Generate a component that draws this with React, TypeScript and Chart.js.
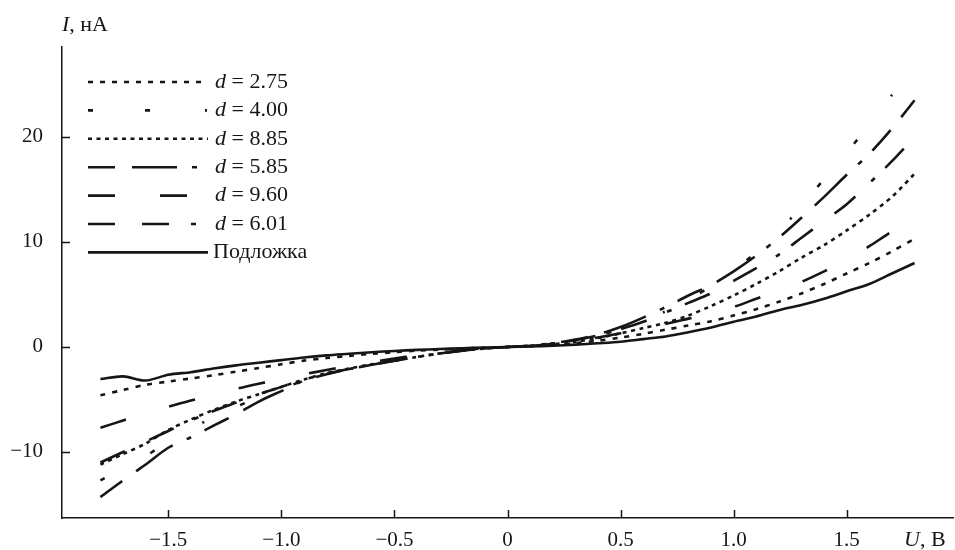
import React, { useEffect, useRef } from "react";
import { Chart, registerables } from "chart.js";

Chart.register(...registerables);

// U, V (x values)
const voltages = [
  -1.8, -1.7, -1.6, -1.5, -1.4, -1.3, -1.2, -1.1, -1.0, -0.9, -0.8, -0.7, -0.6,
  -0.5, -0.4, -0.3, -0.2, -0.1, 0, 0.1, 0.2, 0.3, 0.4, 0.5, 0.6, 0.7, 0.8, 0.9,
  1.0, 1.1, 1.2, 1.3, 1.4, 1.5, 1.6, 1.7, 1.8,
];

// I, nA per series
const d275 = [
  -4.6, -4.1, -3.6, -3.3, -3.0, -2.7, -2.35, -2.0, -1.65, -1.3, -1.05, -0.85,
  -0.65, -0.5, -0.35, -0.25, -0.15, -0.07, 0, 0.07, 0.18, 0.35, 0.6, 0.9, 1.25,
  1.65, 2.05, 2.45, 3.0, 3.6, 4.3, 5.1, 6.0, 7.0, 8.0, 9.1, 10.3,
];
const d400 = [
  -12.7, -11.6, -10.4, -9.0, -7.8, -6.7, -5.7, -4.8, -4.0, -3.2, -2.6, -2.1,
  -1.7, -1.3, -0.95, -0.62, -0.35, -0.15, 0, 0.12, 0.33, 0.65, 1.1, 1.7, 2.5,
  3.4, 4.5, 5.8, 7.3, 9.0, 11.0, 13.4, 16.0, 18.5, 21.2, 24.0, 26.8,
];
const d885 = [
  -11.2, -10.2, -9.2, -7.9, -6.9, -6.0, -5.2, -4.5, -3.8, -3.1, -2.5, -2.05,
  -1.65, -1.3, -0.95, -0.62, -0.35, -0.15, 0, 0.1, 0.25, 0.5, 0.85, 1.3, 1.8,
  2.3, 3.0, 3.9, 4.9, 6.0, 7.2, 8.5, 9.7, 11.1, 12.6, 14.3, 16.5,
];
const d585 = [
  -14.3, -12.7, -11.2, -9.6, -8.6, -7.5, -6.4, -5.2, -4.2, -3.2, -2.6, -2.1,
  -1.7, -1.3, -0.95, -0.62, -0.35, -0.15, 0, 0.12, 0.35, 0.7, 1.2, 1.9, 2.8,
  3.8, 4.9, 5.9, 7.2, 8.7, 10.4, 12.3, 14.3, 16.4, 18.4, 20.8, 23.5,
];
const d960 = [
  -7.7, -7.0, -6.3, -5.7, -5.1, -4.6, -4.0, -3.5, -3.05, -2.6, -2.2, -1.8,
  -1.45, -1.1, -0.8, -0.52, -0.3, -0.12, 0, 0.1, 0.3, 0.55, 0.9, 1.3, 1.75,
  2.2, 2.7, 3.2, 3.8, 4.6, 5.4, 6.2, 7.2, 8.3, 9.6, 11.0, 12.2,
];
const d601 = [
  -11.0, -10.0, -9.0, -8.0, -7.0, -6.1, -5.3, -4.5, -3.8, -3.1, -2.55, -2.1,
  -1.7, -1.3, -0.95, -0.62, -0.35, -0.15, 0, 0.12, 0.32, 0.65, 1.1, 1.7, 2.4,
  3.3, 4.2, 5.1, 6.3, 7.5, 8.8, 10.4, 12.0, 13.6, 15.6, 17.7, 20.0,
];
const substrate = [
  -3.05, -2.8, -3.2, -2.65, -2.4, -2.05, -1.75, -1.5, -1.25, -1.0, -0.8, -0.65,
  -0.5, -0.38, -0.28, -0.2, -0.12, -0.05, 0, 0.05, 0.12, 0.22, 0.35, 0.5, 0.75,
  1.0, 1.4, 1.85, 2.4, 2.9, 3.5, 4.0, 4.6, 5.3, 6.0, 7.0, 8.0,
];

const seriesLabels = [
  "d = 2.75",
  "d = 4.00",
  "d = 8.85",
  "d = 5.85",
  "d = 9.60",
  "d = 6.01",
  "Подложка",
];
const seriesValues = [d275, d400, d885, d585, d960, d601, substrate];

const xTickValues = [-1.5, -1.0, -0.5, 0, 0.5, 1.0, 1.5];
const xTickLabels = ["−1.5", "−1.0", "−0.5", "0", "0.5", "1.0", "1.5"];
const yTickValues = [-10, 0, 10, 20];
const yTickLabels = ["−10", "0", "10", "20"];

// styles (kept apart from data)
const dashes: number[][] = [
  [5, 7],
  [5, 52, 5, 55, 2, 40],
  [4, 4.5],
  [27, 17, 45, 15, 5, 15],
  [27, 45],
  [27, 27, 27, 22, 5, 14],
  [],
];
const INK = "#161616";
const SERIF = '"Liberation Serif", "DejaVu Serif", serif';

const insideTicks = {
  id: "insideTicks",
  afterDraw(chart: any) {
    const { ctx, chartArea, scales } = chart;
    ctx.save();
    ctx.strokeStyle = INK;
    ctx.lineWidth = 1.5;
    ctx.setLineDash([]);
    ctx.beginPath();
    xTickValues.forEach((v) => {
      const px = Math.round(scales.x.getPixelForValue(v)) + 0.5;
      ctx.moveTo(px, chartArea.bottom);
      ctx.lineTo(px, chartArea.bottom - 8);
    });
    yTickValues.forEach((v) => {
      const py = Math.round(scales.y.getPixelForValue(v)) + 0.5;
      ctx.moveTo(chartArea.left, py);
      ctx.lineTo(chartArea.left + 8, py);
    });
    ctx.stroke();
    ctx.restore();
  },
};

function drawMixed(ctx: any, italicPart: string, rest: string, x: number, y: number, size: number) {
  ctx.font = `italic ${size}px ${SERIF}`;
  ctx.fillText(italicPart, x, y);
  const w = ctx.measureText(italicPart).width;
  ctx.font = `${size}px ${SERIF}`;
  ctx.fillText(rest, x + w, y);
}

const customLegend = {
  id: "customLegend",
  afterDraw(chart: any) {
    const { ctx } = chart;
    ctx.save();
    ctx.fillStyle = INK;
    ctx.textBaseline = "middle";
    ctx.textAlign = "left";
    chart.data.datasets.forEach((ds: any, i: number) => {
      const y = 82 + i * 28.4;
      ctx.strokeStyle = INK;
      ctx.lineWidth = 2.6;
      ctx.setLineDash(ds.borderDash || []);
      ctx.beginPath();
      ctx.moveTo(88, y);
      ctx.lineTo(208, y);
      ctx.stroke();
      ctx.setLineDash([]);
      const label: string = ds.label;
      if (label.startsWith("d ")) {
        drawMixed(ctx, "d", label.slice(1), 215, y, 22);
      } else {
        ctx.font = `22px ${SERIF}`;
        ctx.fillText(label, 213, y);
      }
    });
    // axis titles
    drawMixed(ctx, "I", ", нА", 62, 25, 22);
    drawMixed(ctx, "U", ", В", 904, 540, 22);
    ctx.restore();
  },
};

export default function App() {
  const ref = useRef<HTMLCanvasElement | null>(null);
  useEffect(() => {
    if (!ref.current) return;
    const chart = new Chart(ref.current, {
      type: "line",
      data: {
        datasets: seriesLabels.map((label, i) => ({
          label,
          data: voltages.map((v, j) => ({ x: v, y: seriesValues[i][j] })),
          borderColor: INK,
          borderWidth: 2.6,
          borderDash: dashes[i],
          pointRadius: 0,
          tension: 0.3,
          fill: false,
        })),
      },
      options: {
        animation: false,
        responsive: false,
        maintainAspectRatio: false,
        layout: { padding: { top: 47, right: 2, left: 0, bottom: 0 } },
        plugins: { legend: { display: false }, tooltip: { enabled: false } },
        scales: {
          x: {
            type: "linear",
            min: -1.97,
            max: 1.97,
            grid: { display: false, drawTicks: false },
            border: { display: true, color: INK, width: 1.5 },
            afterBuildTicks: (s: any) => {
              s.ticks = xTickValues.map((v) => ({ value: v }));
            },
            afterFit: (s: any) => {
              s.height = 32;
            },
            ticks: {
              autoSkip: false,
              maxRotation: 0,
              padding: 10,
              color: INK,
              font: { family: SERIF, size: 21 },
              callback: (_v: any, i: number) => xTickLabels[i],
            },
          },
          y: {
            type: "linear",
            min: -16.29,
            max: 28.57,
            grid: { display: false, drawTicks: false },
            border: { display: true, color: INK, width: 1.5 },
            afterBuildTicks: (s: any) => {
              s.ticks = yTickValues.map((v) => ({ value: v }));
            },
            afterFit: (s: any) => {
              s.width = 62;
            },
            ticks: {
              autoSkip: false,
              padding: 19,
              color: INK,
              font: { family: SERIF, size: 21 },
              callback: (_v: any, i: number) => yTickLabels[i],
            },
          },
        },
      } as any,
      plugins: [insideTicks, customLegend],
    });
    return () => chart.destroy();
  }, []);
  return (
    <div style={{ position: "absolute", left: 0, top: 0, width: 955, height: 550, background: "#fff" }}>
      <canvas ref={ref} width={955} height={550} style={{ display: "block" }} />
    </div>
  );
}
